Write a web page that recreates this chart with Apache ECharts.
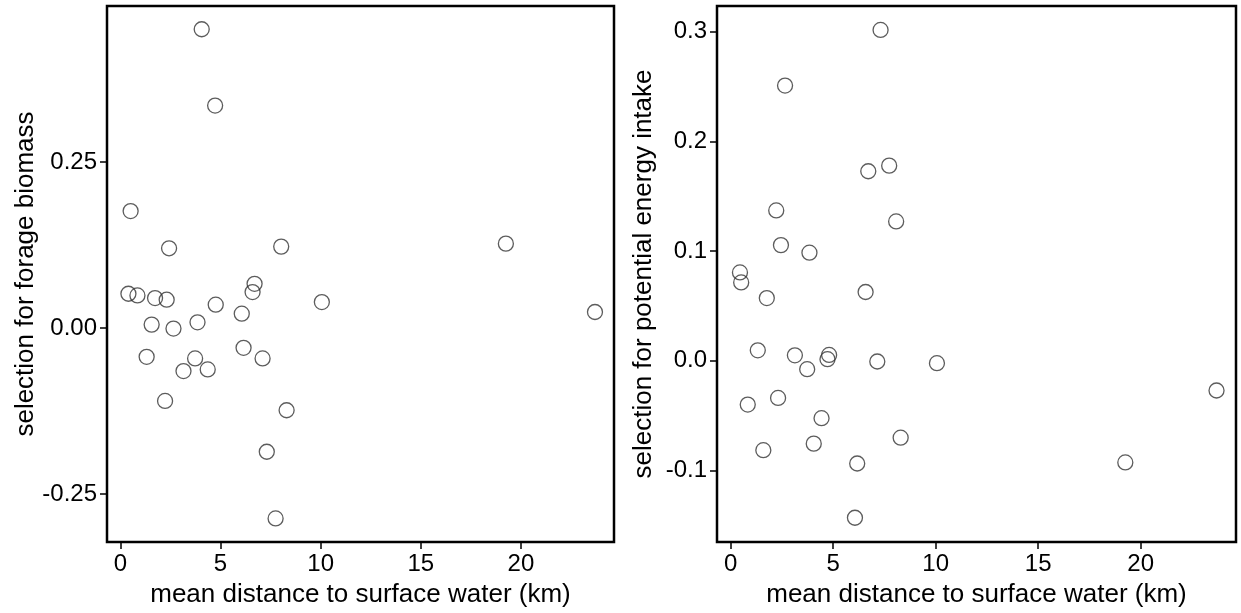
<!DOCTYPE html>
<html lang="en">
<head>
<meta charset="UTF-8" />
<title>selection vs distance to surface water</title>
<script src="https://cdn.jsdelivr.net/npm/echarts@6/dist/echarts.min.js"></script>
<style>
  html, body { margin: 0; padding: 0; background: #fff; }
  #chart { width: 1241px; height: 613px; }
</style>
</head>
<body>
<div id="chart"></div>
<script>
// left panel: selection for forage biomass
var leftX = [4.06, 4.73, 0.51, 2.43, 8.03, 6.7, 6.6, 0.4, 0.85, 1.73, 2.31, 4.76, 10.06, 6.06, 1.56,
             2.65, 3.85, 1.31, 3.73, 3.15, 4.36, 6.15, 7.1, 2.23, 8.3, 7.31, 7.75, 19.25, 23.7];
var leftY = [0.45, 0.335, 0.176, 0.12, 0.1225, 0.0665, 0.054, 0.0515, 0.049, 0.045, 0.0425, 0.035, 0.039, 0.0215, 0.005,
             -0.001, 0.0085, -0.0435, -0.046, -0.065, -0.0625, -0.03, -0.046, -0.11, -0.124, -0.1865, -0.287, 0.127, 0.024];

// right panel: selection for potential energy intake
var rightX = [7.31, 2.65, 7.73, 6.71, 2.22, 8.07, 2.45, 3.84, 0.45, 0.51, 1.76, 6.58, 1.32, 3.13, 4.8,
              4.72, 3.73, 7.15, 10.06, 0.83, 2.31, 4.43, 4.05, 1.59, 8.29, 6.17, 6.06, 19.25, 23.7];
var rightY = [0.3014, 0.2507, 0.1778, 0.1727, 0.137, 0.127, 0.1054, 0.0985, 0.0805, 0.0714, 0.0572, 0.0627, 0.0096, 0.005, 0.0054,
              0.0015, -0.0076, -0.0006, -0.0021, -0.0398, -0.0338, -0.0522, -0.0754, -0.0814, -0.07, -0.0935, -0.1429, -0.0925, -0.027];

var xTicks = [0, 5, 10, 15, 20];
var leftTicks = [-0.25, 0, 0.25];
var rightTicks = [-0.1, 0, 0.1, 0.2, 0.3];

var xTitle = 'mean distance to surface water (km)';
var leftTitle = 'selection for forage biomass';
var rightTitle = 'selection for potential energy intake';

function zip(a, b) {
  var out = [];
  for (var i = 0; i < a.length; i++) out.push([a[i], b[i]]);
  return out;
}

var font = '"Liberation Sans", Arial, sans-serif';

function xAxis(idx) {
  return {
    type: 'value', gridIndex: idx, min: -0.67, max: 24.65, position: 'bottom',
    name: xTitle, nameLocation: 'middle', nameGap: 40,
    nameTextStyle: { fontSize: 26, color: '#000', fontFamily: font },
    axisLine: { show: false, onZero: false },
    splitLine: { show: false },
    axisTick: { show: true, inside: false, length: 7, customValues: xTicks,
                lineStyle: { color: '#000', width: 1.5 } },
    axisLabel: { show: true, margin: 10, fontSize: 24, color: '#000', fontFamily: font,
                 customValues: xTicks }
  };
}

function yAxis(idx, min, max, ticks, title, gap, digits) {
  return {
    type: 'value', gridIndex: idx, min: min, max: max, position: 'left',
    name: title, nameLocation: 'middle', nameGap: gap,
    nameTextStyle: { fontSize: 26, color: '#000', fontFamily: font },
    axisLine: { show: false, onZero: false },
    splitLine: { show: false },
    axisTick: { show: true, inside: false, length: 7, customValues: ticks,
                lineStyle: { color: '#000', width: 1.5 } },
    axisLabel: { show: true, margin: 10, fontSize: 24, color: '#000', fontFamily: font,
                 customValues: ticks,
                 formatter: function (v) { return v.toFixed(digits); } }
  };
}

function pointSeries(idx, data) {
  return {
    type: 'scatter', xAxisIndex: idx, yAxisIndex: idx,
    data: data, symbol: 'circle', symbolSize: 15,
    itemStyle: { color: 'rgba(0,0,0,0)', borderColor: '#333', borderWidth: 1.3 },
    emphasis: { disabled: true }
  };
}

var chart = echarts.init(document.getElementById('chart'), null, { renderer: 'canvas' });
chart.setOption({
  backgroundColor: '#fff',
  animation: false,
  grid: [
    { left: 107, top: 6, width: 507, height: 539, show: true, borderColor: '#000', borderWidth: 2.5 },
    { left: 717, top: 6, width: 519, height: 540, show: true, borderColor: '#000', borderWidth: 2.5 }
  ],
  xAxis: [xAxis(0), xAxis(1)],
  yAxis: [
    yAxis(0, -0.3225, 0.485, leftTicks, leftTitle, 67, 2),
    yAxis(1, -0.165, 0.3232, rightTicks, rightTitle, 60, 1)
  ],
  series: [pointSeries(0, zip(leftX, leftY)), pointSeries(1, zip(rightX, rightY))]
});
</script>
</body>
</html>
